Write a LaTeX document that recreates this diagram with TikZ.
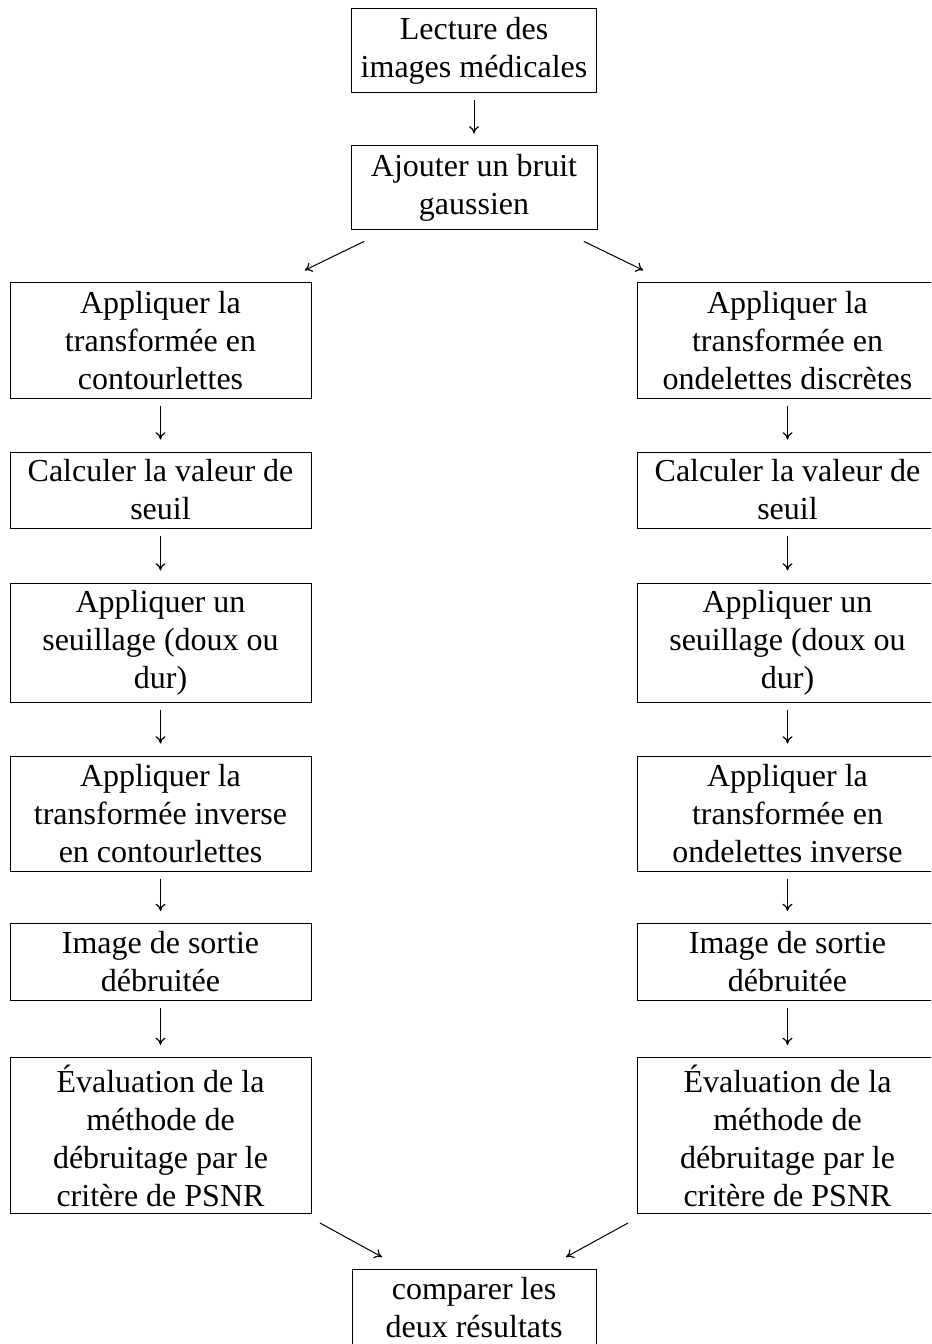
\documentclass[tikz,border=0pt]{standalone}
\usepackage{fontspec}
\setmainfont{Liberation Serif}
\usetikzlibrary{arrows.meta}
\begin{document}
\begin{tikzpicture}[x=0.75pt,y=-0.75pt,
  box/.style 2 args={draw, line width=0.75pt, inner sep=0pt, align=center,
    font=\fontsize{24}{28.5}\selectfont,
    minimum width={0.75pt*#1}, minimum height={0.75pt*#2}},
  conn/.style={-{To[length=5.5pt,width=7.5pt,line width=0.9pt]}, line width=0.75pt},
  vconn/.style={conn, shorten <=5.25pt, shorten >=9pt},
  dtop/.style={conn, shorten <=18.75pt, shorten >=21pt},
  dbot/.style={conn, shorten <=14pt, shorten >=18pt}]
\useasboundingbox (0,0) rectangle (931,1344);
\clip (0,0) rectangle (931,1344);

\node[box={245}{84}] (t1) at (474,51) {Lecture des\\images médicales};
\node[box={246}{84}] (t2) at (474,188) {Ajouter un bruit\\gaussien};

\node[box={301}{115}] (l1) at (160.5,340.5) {Appliquer la\\transformée en\\contourlettes};
\node[box={301}{76}]  (l2) at (160.5,490) {Calculer la valeur de\\seuil};
\node[box={301}{119}] (l3) at (160.5,642.5) {Appliquer un\\seuillage (doux ou\\dur)};
\node[box={301}{115}] (l4) at (160.5,813.5) {Appliquer la\\transformée inverse\\en contourlettes};
\node[box={301}{77}]  (l5) at (160.5,962) {Image de sortie\\débruitée};
\node[box={301}{156}] (l6) at (160.5,1135.5) {Évaluation de la\\méthode de\\débruitage par le\\critère de PSNR};

\node[box={301}{115}] (r1) at (787.5,340.5) {Appliquer la\\transformée en\\ondelettes discrètes};
\node[box={301}{76}]  (r2) at (787.5,490) {Calculer la valeur de\\seuil};
\node[box={301}{119}] (r3) at (787.5,642.5) {Appliquer un\\seuillage (doux ou\\dur)};
\node[box={301}{115}] (r4) at (787.5,813.5) {Appliquer la\\transformée en\\ondelettes inverse};
\node[box={301}{77}]  (r5) at (787.5,962) {Image de sortie\\débruitée};
\node[box={301}{156}] (r6) at (787.5,1135.5) {Évaluation de la\\méthode de\\débruitage par le\\critère de PSNR};

\node[box={244}{77}] (b) at (474,1307.5) {comparer les\\deux résultats};

\draw[vconn] (t1) -- (t2);
\draw[dtop] (t2) -- (l1);
\draw[dtop] (t2) -- (r1);
\draw[vconn] (l1) -- (l2);
\draw[vconn] (l2) -- (l3);
\draw[vconn] (l3) -- (l4);
\draw[vconn] (l4) -- (l5);
\draw[vconn] (l5) -- (l6);
\draw[vconn] (r1) -- (r2);
\draw[vconn] (r2) -- (r3);
\draw[vconn] (r3) -- (r4);
\draw[vconn] (r4) -- (r5);
\draw[vconn] (r5) -- (r6);
\draw[dbot] (l6) -- (b);
\draw[dbot] (r6) -- (b);
\end{tikzpicture}
\end{document}
